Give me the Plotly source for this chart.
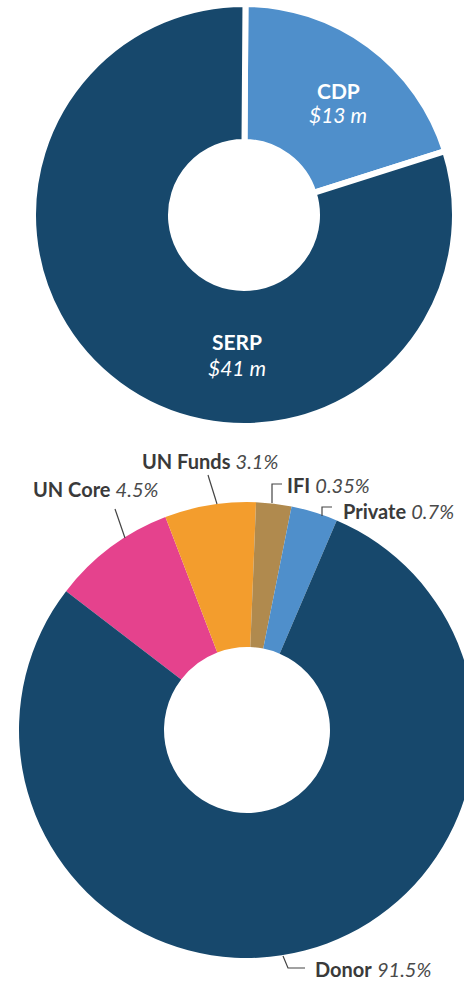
import plotly.graph_objects as go

# ---- data ----
top_labels = ["CDP", "SERP"]
top_amounts = ["$13 m", "$41 m"]
top_shares = [20.0, 80.0]          # share of ring as drawn
top_colors = ["#4f8fcb", "#17486c"]

bottom_labels = ["UN Core", "UN Funds", "IFI", "Private", "Donor"]
bottom_pct = ["4.5%", "3.1%", "0.35%", "0.7%", "91.5%"]
bottom_shares = [8.75, 6.45, 2.5, 3.3, 78.9]   # share of ring as drawn
bottom_colors = ["#e5428d", "#f39d2d", "#b08a4e", "#4f8fcb", "#17486c"]

W, H = 480, 981
FONT = "Lato"
TXT = "#3a3a3a"
PCT = "#4a4a4a"

def px(x):
    return x / W

def py(y):
    return 1 - y / H

fig = go.Figure()

fig.add_trace(go.Pie(
    labels=top_labels, values=top_shares, hole=0.346, sort=False,
    direction="clockwise", rotation=0.4,
    marker=dict(colors=top_colors, line=dict(color="white", width=6)),
    textinfo="none", hoverinfo="label",
    domain=dict(x=[px(33), px(455)], y=[py(426), py(4)]),
    showlegend=False,
))

fig.add_trace(go.Pie(
    labels=bottom_labels, values=bottom_shares, hole=0.364, sort=False,
    direction="clockwise", rotation=-52.5,
    marker=dict(colors=bottom_colors, line=dict(width=0)),
    textinfo="none", hoverinfo="label",
    domain=dict(x=[px(19), px(475)], y=[py(958), py(502)]),
    showlegend=False,
))

annotations = []
# top inside labels (name line, amount line)
top_pos = [(338, 90, 115), (237, 341, 367)]
for lab, amt, (x, y1, y2) in zip(top_labels, top_amounts, top_pos):
    annotations.append(dict(
        text=f"<b>{lab}</b>", x=px(x), y=py(y1),
        xref="paper", yref="paper", xanchor="center", yanchor="middle",
        showarrow=False, font=dict(family=FONT, size=21, color="white"),
    ))
    annotations.append(dict(
        text=f"<i>{amt}</i>", x=px(x), y=py(y2),
        xref="paper", yref="paper", xanchor="center", yanchor="middle",
        showarrow=False, font=dict(family=FONT, size=21, color="white"),
    ))

# bottom outside labels
bottom_pos = [(31, 489), (140, 461), (285, 485), (341, 511), (313, 969)]
for lab, pct, (x, y) in zip(bottom_labels, bottom_pct, bottom_pos):
    annotations.append(dict(
        text=f"<b>{lab}</b> <span style='color:{PCT}'><i>{pct}</i></span>",
        x=px(x), y=py(y),
        xref="paper", yref="paper", xanchor="left", yanchor="middle",
        showarrow=False, font=dict(family=FONT, size=20, color=TXT),
    ))

leaders = [
    [(115, 509), (125, 538)],
    [(208, 475), (217, 504)],
    [(272, 503), (272, 484), (282, 484)],
    [(322, 516), (322, 507), (332, 507)],
    [(283, 956), (288, 968), (305, 968)],
]
shapes = []
for pts in leaders:
    path = "M " + " L ".join(f"{px(x)} {py(y)}" for x, y in pts)
    shapes.append(dict(type="path", path=path, xref="paper", yref="paper",
                       line=dict(color="#444444", width=1.2)))

fig.update_layout(
    width=W, height=H, margin=dict(l=0, r=0, t=0, b=0),
    paper_bgcolor="white", plot_bgcolor="white",
    annotations=annotations, shapes=shapes,
)

fig.write_html(
    "out.html",
    config={"displayModeBar": False},
    post_script="document.body.style.margin='0';document.body.style.overflow='hidden';",
)
